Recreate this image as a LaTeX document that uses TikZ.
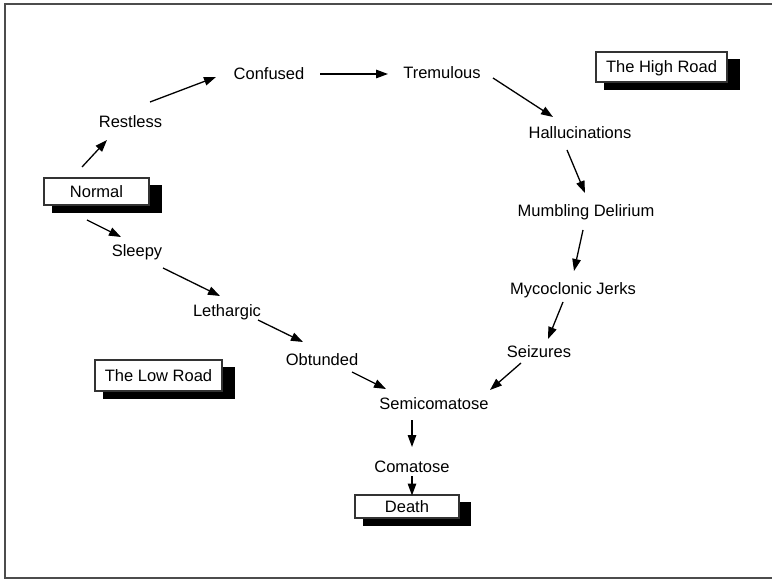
\documentclass[tikz,border=0pt]{standalone}
\usepackage{fontspec}
\setmainfont{Liberation Sans}
\usetikzlibrary{arrows.meta,shadows}
\tikzset{
  >={Triangle[length=12pt,width=8.5pt]},
  go/.style={->,line width=1.3pt},
  stage/.style={inner sep=0pt,text height=12pt,text depth=0pt,
    font=\fontsize{16.5}{19}\selectfont},
  road/.style={draw=black!80,line width=1.1pt,fill=white,inner sep=0pt,
    text height=12pt,text depth=0pt,font=\fontsize{16.5}{19}\selectfont,
    drop shadow={shadow xshift=10pt,shadow yshift=-7.5pt,shadow scale=1.04,
      opacity=1,fill=black}},
}
\begin{document}
\begin{tikzpicture}[x=1pt,y=-1pt]
  \useasboundingbox (0,0) rectangle (772,580);
  \draw[black!70,line width=1.3pt] (5,4) rectangle (776,578);
  % boxes
  \node[road,minimum width=105pt,minimum height=27pt] (normal) at (96.5,191.5) {Normal};
  \node[road,minimum width=131pt,minimum height=30pt] (high) at (661.5,67) {The High Road};
  \node[road,minimum width=127pt,minimum height=31pt] (low) at (158.5,375.5) {The Low Road};
  \node[road,minimum width=104pt,minimum height=23pt] (death) at (407,506.5) {Death};
  % high road
  \node[stage] (restless) at (130.5,121.5) {Restless};
  \node[stage] (confused) at (269,74) {Confused};
  \node[stage] (tremulous) at (442,73) {Tremulous};
  \node[stage] (halluc) at (580,132.5) {Hallucinations};
  \node[stage] (mumbling) at (586,211) {Mumbling Delirium};
  \node[stage] (myco) at (573,288.5) {Mycoclonic Jerks};
  \node[stage] (seizures) at (539,351.5) {Seizures};
  % low road
  \node[stage] (sleepy) at (137,251) {Sleepy};
  \node[stage] (lethargic) at (227,311) {Lethargic};
  \node[stage] (obtunded) at (322,360) {Obtunded};
  \node[stage] (semi) at (434,403.5) {Semicomatose};
  \node[stage] (coma) at (412,466) {Comatose};
  % arrows
  \draw[go] ([shift={(-14.5,-24.5)}]normal.center) -- ([shift={(-23.5,18.5)}]restless.center);
  \draw[go] ([shift={(19.5,-19.5)}]restless.center) -- ([shift={(-53,3)}]confused.center);
  \draw[go] ([shift={(51,0)}]confused.center) -- ([shift={(-54,1)}]tremulous.center);
  \draw[go] ([shift={(51,5)}]tremulous.center) -- ([shift={(-27,-15.5)}]halluc.center);
  \draw[go] ([shift={(-13,17.5)}]halluc.center) -- ([shift={(-1,-18)}]mumbling.center);
  \draw[go] ([shift={(-3,19)}]mumbling.center) -- ([shift={(1,-17.5)}]myco.center);
  \draw[go] ([shift={(-10,13.5)}]myco.center) -- ([shift={(9,-12.5)}]seizures.center);
  \draw[go] ([shift={(-18,11.5)}]seizures.center) -- ([shift={(56,-13.5)}]semi.center);
  \draw[go] ([shift={(-9.5,28.5)}]normal.center) -- ([shift={(-16,-14)}]sleepy.center);
  \draw[go] ([shift={(26,17)}]sleepy.center) -- ([shift={(-7,-15)}]lethargic.center);
  \draw[go] ([shift={(31,9)}]lethargic.center) -- ([shift={(-19,-18)}]obtunded.center);
  \draw[go] ([shift={(30,12)}]obtunded.center) -- ([shift={(-48,-14.5)}]semi.center);
  \draw[go] ([shift={(-22,16.5)}]semi.center) -- ([shift={(0,-19)}]coma.center);
  \draw[go] ([shift={(0,10)}]coma.center) -- ([shift={(5,-11)}]death.center);
\end{tikzpicture}
\end{document}
